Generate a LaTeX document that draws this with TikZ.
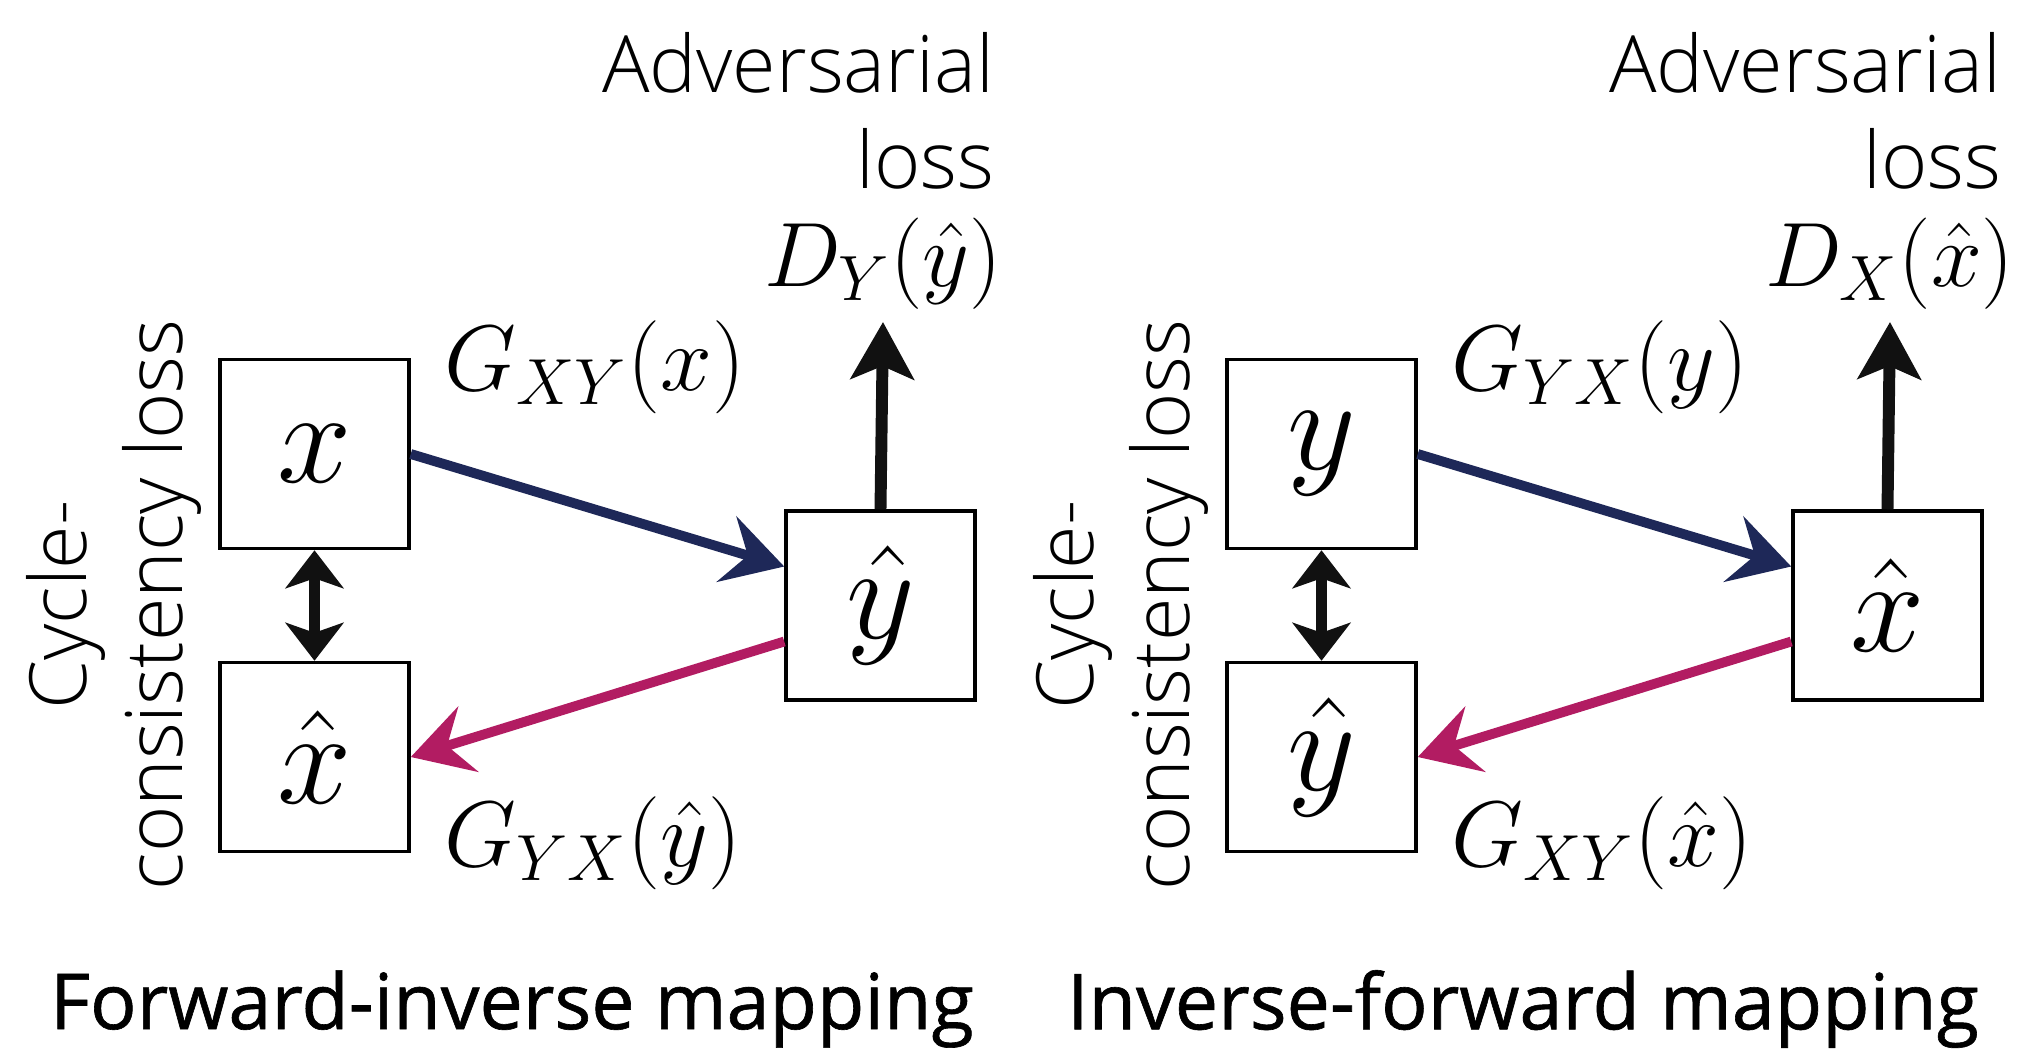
\RequirePackage{fix-cm}
\documentclass[tikz,border=0pt]{standalone}
\usepackage{fontspec}
\setmainfont{Open Sans}
\newfontfamily\lightfont{Open Sans Light}
\newfontfamily\titlefont{Open Sans}[FakeBold=0.8]
\usetikzlibrary{arrows.meta,positioning}
\definecolor{mapblue}{RGB}{30,40,88}
\definecolor{mappink}{RGB}{178,28,98}
\definecolor{nearblack}{RGB}{17,17,17}

\tikzset{
  imgbox/.style={draw, line width=1pt, minimum size=1.89cm, inner sep=0pt, font=\fontsize{38}{44}\selectfont},
  maplabel/.style={font=\fontsize{26.5}{31}\selectfont, inner sep=0pt},
  losstext/.style={font=\lightfont\fontsize{22.5}{27.5}\selectfont, inner sep=0pt},
  titletext/.style={font=\titlefont\fontsize{22}{27}\selectfont},
  tip/.style={-{Stealth[length=6mm,width=6.8mm,inset=2.2mm]}},
  uptip/.style={-{Stealth[length=5.7mm,width=6.3mm,inset=1.3mm]}},
  dbltip/.style={{Stealth[length=3.8mm,width=5.8mm,inset=1mm]}-{Stealth[length=3.8mm,width=5.8mm,inset=1mm]}},
  fwdarrow/.style={tip, line width=2.8pt, mapblue},
  invarrow/.style={tip, line width=2.8pt, mappink},
  lossarrow/.style={uptip, line width=3.4pt, nearblack},
  cyclearrow/.style={dbltip, line width=3.4pt, nearblack},
}

\begin{document}
\begin{tikzpicture}
\useasboundingbox (0,0) rectangle (20.17,-10.61);

% Forward-inverse mapping
\begin{scope}
  \node[imgbox] (inx) at (3.145,-4.54) {$x$};
  \node[imgbox] (recx) at (3.145,-7.57) {$\hat{x}$};
  \node[imgbox] (outy) at (8.805,-6.055) {$\hat{y}$};

  \node[maplabel, anchor=west] (gxy) at (4.44,-3.67) {$G_{XY}(x)$};
  \node[maplabel, anchor=west] (gyx) at (4.44,-8.43) {$G_{YX}(\hat{y})$};
  \node[anchor=south, font=\fontsize{26}{31}\selectfont] (dy) at (8.83,-3.22) {$D_Y(\hat{y})$};
  \node[losstext, anchor=east, align=right] (advl) at (9.95,-1.11) {Adversarial\\loss};
  \node[losstext, rotate=90, align=center] (cycl) at (1.14,-6.05) {Cycle-\\consistency loss};
  \node[titletext] (ttl) at (5.12,-10.09) {Forward-inverse mapping};

  % Arrows
  \draw[fwdarrow] (inx.east) -- ([yshift=0.39cm]outy.west);
  \draw[invarrow] ([yshift=-0.36cm]outy.west) -- (recx.east);
  \draw[lossarrow] (outy.north) -- (dy.south);
  \draw[cyclearrow] (inx.south) -- (recx.north);
\end{scope}

% Inverse-forward mapping
\begin{scope}[xshift=10.07cm]
  \node[imgbox] (iny) at (3.145,-4.54) {$y$};
  \node[imgbox] (recy) at (3.145,-7.57) {$\hat{y}$};
  \node[imgbox] (outx) at (8.805,-6.055) {$\hat{x}$};

  \node[maplabel, anchor=west] (gyx2) at (4.44,-3.67) {$G_{YX}(y)$};
  \node[maplabel, anchor=west] (gxy2) at (4.44,-8.43) {$G_{XY}(\hat{x})$};
  \node[anchor=south, font=\fontsize{26}{31}\selectfont] (dx) at (8.83,-3.22) {$D_X(\hat{x})$};
  \node[losstext, anchor=east, align=right] (advl2) at (9.95,-1.11) {Adversarial\\loss};
  \node[losstext, rotate=90, align=center] (cycl2) at (1.14,-6.05) {Cycle-\\consistency loss};
  \node[titletext] (ttl2) at (5.16,-10.09) {Inverse-forward mapping};

  % Arrows
  \draw[fwdarrow] (iny.east) -- ([yshift=0.39cm]outx.west);
  \draw[invarrow] ([yshift=-0.36cm]outx.west) -- (recy.east);
  \draw[lossarrow] (outx.north) -- (dx.south);
  \draw[cyclearrow] (iny.south) -- (recy.north);
\end{scope}
\end{tikzpicture}
\end{document}
